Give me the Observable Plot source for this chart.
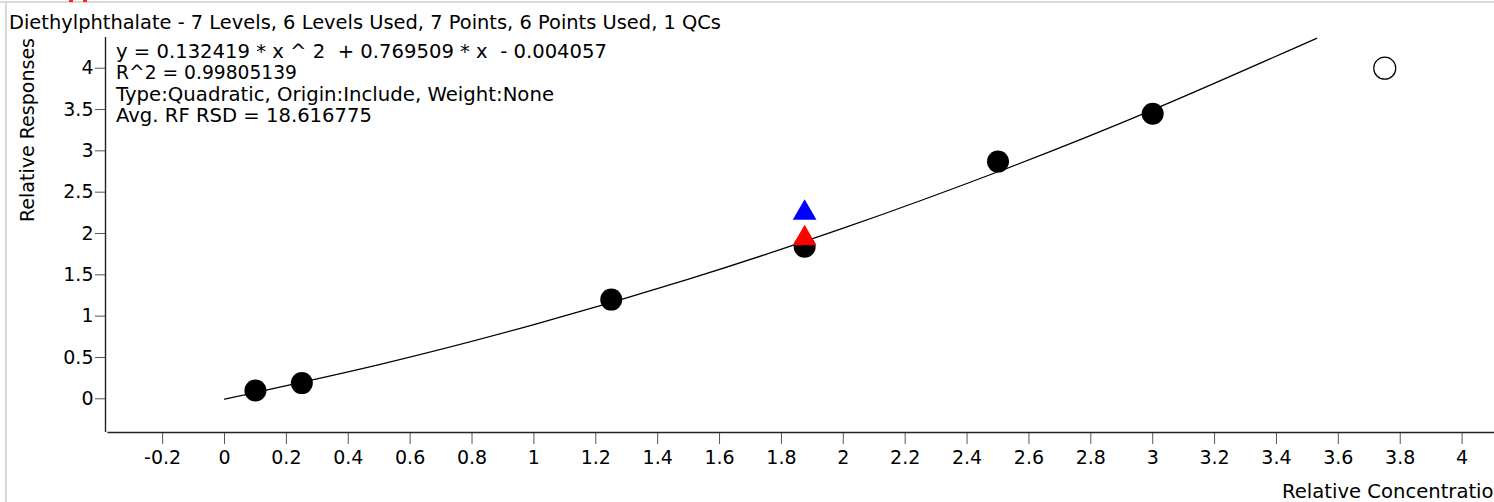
<!DOCTYPE html>
<html><head><meta charset="utf-8">
<script src="https://cdn.jsdelivr.net/npm/d3@7"></script>
<script src="https://cdn.jsdelivr.net/npm/@observablehq/plot@0.6"></script>
<style>
body{margin:0;background:#fff;}
#wrap{position:relative;width:1494px;height:502px;overflow:hidden;}
.edge{position:absolute;background:#d9d9d9;}
.red{position:absolute;background:#ff2020;}
</style></head><body><div id="wrap"></div>
<script>
const titleText = "Diethylphthalate - 7 Levels, 6 Levels Used, 7 Points, 6 Points Used, 1 QCs";
const infoLines = [
  "y = 0.132419 * x ^ 2  + 0.769509 * x  - 0.004057",
  "R^2 = 0.99805139",
  "Type:Quadratic, Origin:Include, Weight:None",
  "Avg. RF RSD = 18.616775"
];
const xLabel = "Relative Concentration";
const yLabel = "Relative Responses";

// calibration points used
const calX = [0.1, 0.25, 1.25, 1.875, 2.5, 3.0];
const calY = [0.10, 0.19, 1.20, 1.84, 2.87, 3.45];
// excluded point (open circle)
const exclX = [3.75];
const exclY = [4.0];
// QC points
const qcX = [1.875, 1.875];
const qcY = [2.25, 1.94];
const qcColor = ["#0000ff", "#ff0000"];
// fitted curve samples (from the printed equation)
const fitX = [0, 0.5, 1, 1.5, 2, 2.5, 3, 3.53];
const fitY = [-0.0041, 0.4138, 0.8979, 1.4481, 2.0646, 2.7473, 3.4962, 4.3624];

const xTicks = [-0.2, 0, 0.2, 0.4, 0.6, 0.8, 1, 1.2, 1.4, 1.6, 1.8, 2, 2.2, 2.4, 2.6, 2.8, 3, 3.2, 3.4, 3.6, 3.8, 4];
const yTicks = [0, 0.5, 1, 1.5, 2, 2.5, 3, 3.5, 4];
const xDomain = [-0.3846, 4.1047];
const yDomain = [-0.4077, 4.3715];

const cal = calX.map((x, i) => ({x, y: calY[i]}));
const excl = exclX.map((x, i) => ({x, y: exclY[i]}));
const qc = qcX.map((x, i) => ({x, y: qcY[i], c: qcColor[i]}));
const fit = fitX.map((x, i) => ({x, y: fitY[i]}));

const FONT = "'DejaVu Sans', sans-serif";

const chart = Plot.plot({
  width: 1494,
  height: 502,
  marginLeft: 105,
  marginRight: 0,
  marginTop: 37,
  marginBottom: 70,
  style: {fontFamily: FONT, fontSize: "19px", color: "#000", background: "transparent"},
  x: {domain: xDomain, label: null},
  y: {domain: yDomain, label: null},
  marks: [
    Plot.axisX({ticks: xTicks, tickFormat: d => String(d), tickSize: 12, tickPadding: 6, stroke: "#555", label: null, fill: "#000", fontSize: 19}),
    Plot.axisY({ticks: yTicks, tickFormat: d => String(d), tickSize: 10, tickPadding: 2, stroke: "#555", label: null, fill: "#000", fontSize: 19}),
    Plot.ruleY([yDomain[0]], {x1: -0.377, x2: xDomain[1], stroke: "#222", strokeWidth: 1.4}),
    Plot.ruleX([xDomain[0]], {stroke: "#222", strokeWidth: 1.4}),
    Plot.line(fit, {x: "x", y: "y", curve: "natural", stroke: "#000", strokeWidth: 1.3}),
    Plot.dot(cal, {x: "x", y: "y", r: 11, fill: "#000", stroke: "none"}),
    Plot.dot(excl, {x: "x", y: "y", r: 11, fill: "#fff", stroke: "#000", strokeWidth: 1.2}),
    Plot.dot(qc, {x: "x", y: "y", r: 8.8, symbol: "triangle", fill: "c", stroke: "none"})
  ]
});
const wrap = document.getElementById("wrap");
wrap.appendChild(chart);

const svg = d3.select(chart);
function addText(str, x, y, opts = {}) {
  const t = svg.append("text").attr("x", x).attr("y", y)
    .attr("font-family", FONT).attr("font-size", opts.size || 19).attr("fill", "#000")
    .attr("text-anchor", opts.anchor || "start").text(str);
  if (opts.len) t.attr("textLength", opts.len).attr("lengthAdjust", "spacingAndGlyphs");
  if (opts.rot) t.attr("transform", `rotate(-90 ${x} ${y})`);
  return t;
}
addText(titleText, 9, 28.5, {len: 712, size: 19.5});
const infoY = [57.5, 79, 100.5, 122];
const infoLen = [491, 181, 438, 256];
infoLines.forEach((s, i) => addText(s, 116, infoY[i], {len: infoLen[i], size: 19.5}));
addText(yLabel, 33.5, 130, {anchor: "middle", rot: true, len: 184});
addText(xLabel, 1282, 497.5, {len: 224});

// panel edges
const e1 = document.createElement("div"); e1.className = "edge";
Object.assign(e1.style, {left: "0px", top: "1px", width: "1494px", height: "2px"}); wrap.appendChild(e1);
const e2 = document.createElement("div"); e2.className = "edge";
Object.assign(e2.style, {left: "5px", top: "1px", width: "2px", height: "501px"}); wrap.appendChild(e2);
[[69, 4], [83, 4]].forEach(([l, w]) => {
  const r = document.createElement("div"); r.className = "red";
  Object.assign(r.style, {left: l + "px", top: "0px", width: w + "px", height: "2px"}); wrap.appendChild(r);
});
</script></body></html>
